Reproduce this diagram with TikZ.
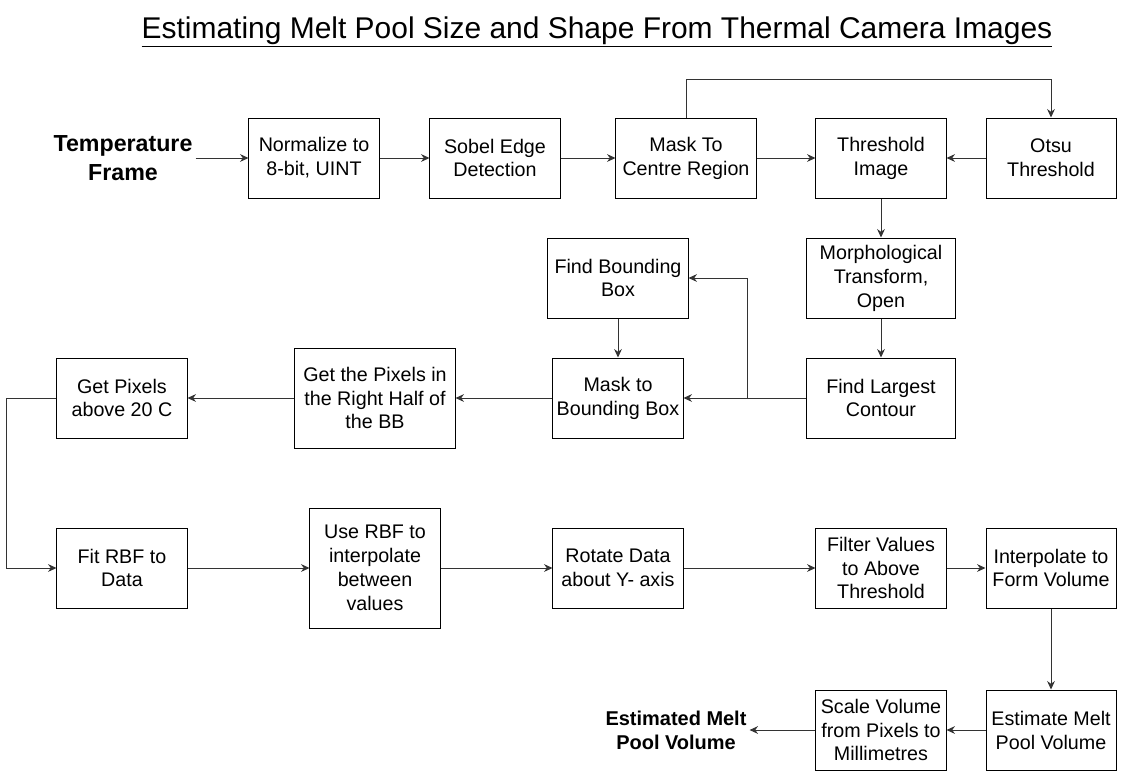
\documentclass[tikz,border=0pt]{standalone}
\usepackage{fontspec}
\setmainfont{Liberation Sans}
\usetikzlibrary{arrows.meta}

\begin{document}
\begin{tikzpicture}[x=0.025cm,y=-0.025cm,
    box/.style={draw, line width=0.7pt, minimum width=3.25cm, minimum height=2cm,
      inner sep=1pt, align=center, font=\fontsize{14}{17}\selectfont},
    flow/.style={line width=0.7pt, draw=black!80, arrows={-Stealth[length=6pt,width=5.5pt]}}]
    \useasboundingbox (0,0) rectangle (1139,771);

    \node (title) at (597,32) {\fontsize{21.3}{25}\selectfont\underline{Estimating Melt Pool Size and Shape From Thermal Camera Images}};

    % first row
    \node[align=center, inner sep=2pt, font=\fontsize{16.5}{20.6}\selectfont\bfseries] (temp) at (123,158) {Temperature\\Frame};
    \node[box] (norm) at (314,158) {Normalize to\\8-bit, UINT};
    \node[box] (sobel) at (495,158) {Sobel Edge\\Detection};
    \node[box, minimum width=3.5cm] (centre) at (686,158) {Mask To\\Centre Region};
    \node[box] (thresh) at (881,158) {Threshold\\Image};
    \node[box] (otsu) at (1051,158) {Otsu\\Threshold};

    % second row
    \node[box, minimum width=3.725cm] (morph) at (881,278) {Morphological\\Transform,\\Open};
    \node[box, minimum width=3.5cm] (findbb) at (618,278) {Find Bounding\\Box};
    \node[box, minimum width=3.725cm] (contour) at (881,398) {Find Largest\\Contour};
    \node[box] (maskbb) at (618,398) {Mask to\\Bounding Box};
    \node[box, minimum width=4cm, minimum height=2.5cm] (halfbb) at (375,398) {Get the Pixels in\\the Right Half of\\the BB};
    \node[box] (above) at (122,398) {Get Pixels\\above 20 C};

    % third row
    \node[box] (fit) at (122,568) {Fit RBF to\\Data};
    \node[box, minimum height=3cm] (userbf) at (375,568) {Use RBF to\\interpolate\\between\\values};
    \node[box] (rotate) at (618,568) {Rotate Data\\about Y- axis};
    \node[box] (filter) at (881,568) {Filter Values\\to Above\\Threshold};
    \node[box] (interp) at (1051,568) {Interpolate to\\Form Volume};

    % last row
    \node[box] (estim) at (1051,730) {Estimate Melt\\Pool Volume};
    \node[box] (scale) at (881,730) {Scale Volume\\from Pixels to\\Millimetres};
    \node[align=center, inner sep=2pt, font=\fontsize{14.2}{17}\selectfont\bfseries] (result) at (676,730) {Estimated Melt\\Pool Volume};

    \coordinate (split) at (747,398);

    \draw[flow] (temp.east) -- (norm.west);
    \draw[flow] (norm) -- (sobel);
    \draw[flow] (sobel) -- (centre);
    \draw[flow] (centre) -- (thresh);
    \draw[flow] (centre.north) -- (centre.north |- 0,79) -| (otsu.north);
    \draw[flow] (otsu) -- (thresh);
    \draw[flow] (thresh) -- (morph);
    \draw[flow] (morph) -- (contour);
    \draw[line width=0.7pt, draw=black!80] (contour.west) -- (split);
    \draw[flow] (split) -- (maskbb.east);
    \draw[flow] (split) |- (findbb.east);
    \draw[flow] (findbb) -- (maskbb);
    \draw[flow] (maskbb) -- (halfbb);
    \draw[flow] (halfbb) -- (above);
    \draw[flow] (above.west) -- ++(-50,0) |- (fit.west);
    \draw[flow] (fit) -- (userbf);
    \draw[flow] (userbf) -- (rotate);
    \draw[flow] (rotate) -- (filter);
    \draw[flow] (filter) -- (interp);
    \draw[flow] (interp) -- (estim);
    \draw[flow] (estim) -- (scale);
    \draw[flow] (scale.west) -- (result.east);
\end{tikzpicture}
\end{document}
